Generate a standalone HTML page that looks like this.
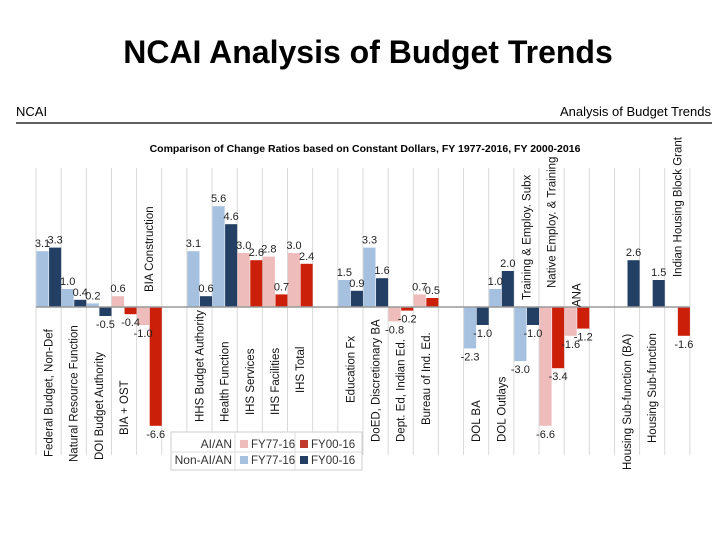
<!DOCTYPE html>
<html><head><meta charset="utf-8"><style>
body{margin:0;background:#fff;width:720px;height:540px;overflow:hidden;font-family:"Liberation Sans",sans-serif}
</style></head><body>
<svg width="720" height="540" xmlns="http://www.w3.org/2000/svg">
<text x="368" y="63" text-anchor="middle" font-size="32" font-weight="bold" font-family="Liberation Sans, sans-serif">NCAI Analysis of Budget Trends</text>
<text x="16" y="116" font-size="13">NCAI</text>
<text x="711" y="116" font-size="13" text-anchor="end">Analysis of Budget Trends</text>
<line x1="16" y1="123" x2="712" y2="123" stroke="#000" stroke-width="1.2"/>
<text x="365" y="152" font-size="10.5" font-weight="bold" text-anchor="middle">Comparison of Change Ratios based on Constant Dollars, FY 1977-2016, FY 2000-2016</text>
<g id="grid"></g><g id="bars"></g><g id="labels"></g>
<g>
<rect x="171" y="432" width="191" height="38" fill="#fff" stroke="#ccc"/>
<line x1="235" y1="432" x2="235" y2="470" stroke="#ddd"/><line x1="295" y1="432" x2="295" y2="470" stroke="#ddd"/>
<line x1="171" y1="452" x2="362" y2="452" stroke="#ddd"/>
<text x="232" y="448" font-size="12" text-anchor="end" fill="#333">AI/AN</text>
<rect x="240" y="440" width="8" height="8" fill="#efbcbc"/><text x="251" y="448" font-size="11.5" fill="#333">FY77-16</text>
<rect x="300" y="440" width="8" height="8" fill="#c0392b"/><text x="311" y="448" font-size="11.5" fill="#333">FY00-16</text>
<text x="232" y="464" font-size="12" text-anchor="end" fill="#333">Non-AI/AN</text>
<rect x="240" y="456" width="8" height="8" fill="#a6c1df"/><text x="251" y="464" font-size="11.5" fill="#333">FY77-16</text>
<rect x="300" y="456" width="8" height="8" fill="#233f63"/><text x="311" y="464" font-size="11.5" fill="#333">FY00-16</text>
</g>
</svg>
<script>
const categories=["Federal Budget, Non-Def","Natural Resource Function","DOI Budget Authority","BIA + OST","BIA Construction","","HHS Budget Authority","Health Function","IHS Services","IHS Facilities","IHS Total","","Education Fx","DoED, Discretionary BA","Dept. Ed, Indian Ed.","Bureau of Ind. Ed.","","DOL BA","DOL Outlays","Training & Employ. Subx","Native Employ. & Training","ANA","","Housing Sub-function (BA)","Housing Sub-function","Indian Housing Block Grant"];
const fy77=[3.1,1.0,0.2,0.6,-1.0,null,3.1,5.6,3.0,2.8,3.0,null,1.5,3.3,-0.8,0.7,null,-2.3,1.0,-3.0,-6.6,-1.6,null,null,null,null];
const fy00=[3.3,0.4,-0.5,-0.4,-6.6,null,0.6,4.6,2.6,0.7,2.4,null,0.9,1.6,-0.2,0.5,null,-1.0,2.0,-1.0,-3.4,-1.2,null,2.6,1.5,-1.6];
const aian=[0,0,0,1,1,0,0,0,1,1,1,0,0,0,1,1,0,0,0,0,1,1,0,0,0,1];
const labelBottom=[457,462,460,435,292,0,422,422,415,415,393,0,403,442,442,425,0,442,442,300,288,307,0,470,443,277];
const ns="http://www.w3.org/2000/svg";
const X0=36,SW=25.15,Y0=307,K=18;
const xs=i=>X0+i*SW, ys=v=>Y0-v*K;
const C={l77:"#a6c1df",l00:"#233f63",a77:"#efbcbc",a00:"#cc1f0a"};
function mk(tag,attrs,parent){const e=document.createElementNS(ns,tag);for(const k in attrs)e.setAttribute(k,attrs[k]);parent.appendChild(e);return e;}
const G=document.getElementById('grid'),B=document.getElementById('bars'),L=document.getElementById('labels');
for(let i=0;i<=categories.length;i++){const g=mk('line',{x1:xs(i),x2:xs(i),y1:168,y2:455,stroke:'#d9d9d9'},G);

}
function fmt(v){return v.toFixed(1);}
function bar(i,half,v,col,name){
 if(v===null)return;
 const x=xs(i)+half*SW/2+0.5,w=SW/2-0.5,y=Math.min(ys(v),Y0),h=Math.abs(ys(v)-Y0);
 const r=mk('rect',{x:x,y:y,width:w,height:h,fill:col},B);
 
 
 const t=mk('text',{x:x+w/2,y:v>=0?y-4:y+h+12,'font-size':11,'text-anchor':'middle',fill:'#222'},L);
 t.textContent=fmt(v);
 
 
}
categories.forEach((c,i)=>{
 bar(i,0,fy77[i],aian[i]?C.a77:C.l77,'bar-fy77');
 bar(i,1,fy00[i],aian[i]?C.a00:C.l00,'bar-fy00');
 if(c){const cx=xs(i)+SW/2+4,by=labelBottom[i];
  const t=mk('text',{x:cx,y:by,'font-size':11.5,fill:'#111',transform:`rotate(-90 ${cx} ${by})`},L);
  t.textContent=c;
  
  }
});
const ax=mk('line',{x1:X0,x2:xs(categories.length),y1:Y0,y2:Y0,stroke:'#999','stroke-width':1.5},B);


</script>
</body></html>
